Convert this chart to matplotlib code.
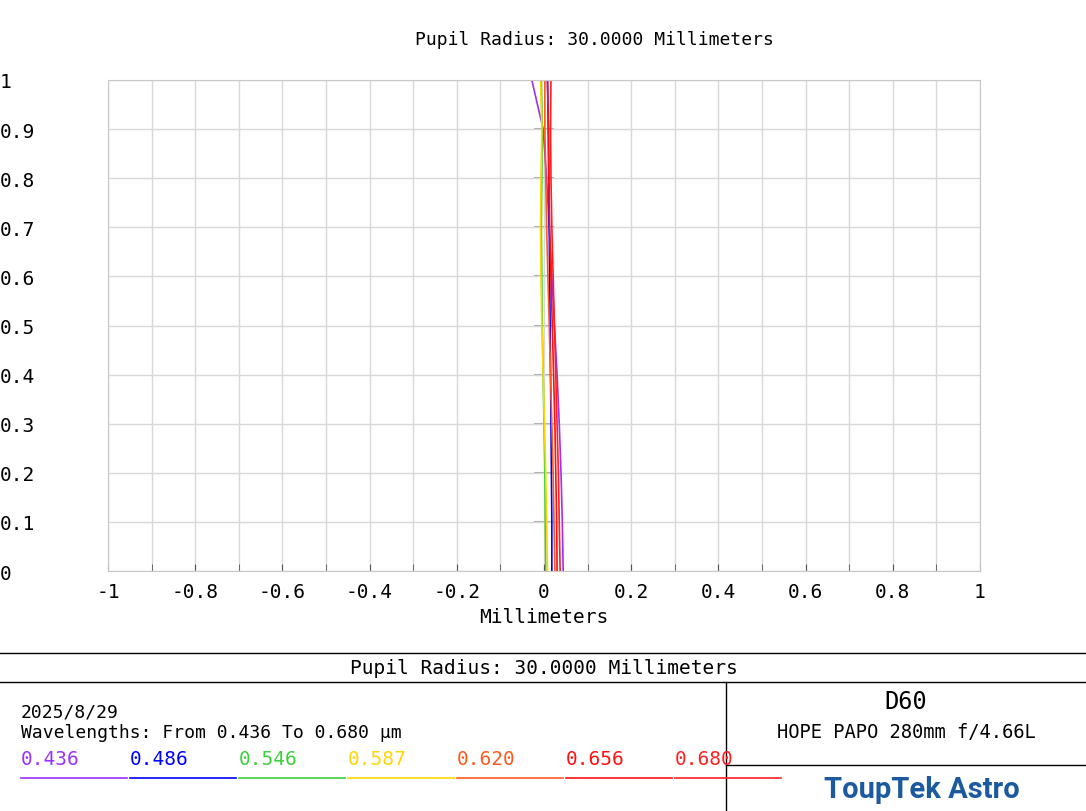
import matplotlib
matplotlib.use("Agg")
import matplotlib.pyplot as plt
import numpy as np

py = [0, 0.1, 0.2, 0.3, 0.4, 0.5, 0.6, 0.7, 0.8, 0.9, 1.0]
wavelengths = ["0.436", "0.486", "0.546", "0.587", "0.620", "0.656", "0.680"]
colors = ["#9b30ff", "#0000ff", "#3cd03c", "#ffd700", "#ff5a1e", "#ff1010", "#ff2020"]
w436 = [0.044, 0.042, 0.039, 0.035, 0.030, 0.024, 0.018, 0.012, 0.006, -0.002, -0.028]
w486 = [0.018, 0.018, 0.017, 0.016, 0.015, 0.014, 0.013, 0.012, 0.011, 0.010, 0.008]
w546 = [0.004, 0.003, 0.002, 0.000, -0.002, -0.004, -0.005, -0.006, -0.005, -0.004, -0.006]
w587 = [0.008, 0.006, 0.004, 0.001, -0.002, -0.005, -0.007, -0.008, -0.007, -0.005, -0.008]
w620 = [0.025, 0.023, 0.021, 0.018, 0.015, 0.012, 0.009, 0.006, 0.004, 0.002, 0.002]
w656 = [0.030, 0.029, 0.027, 0.025, 0.022, 0.019, 0.016, 0.013, 0.011, 0.010, 0.008]
w680 = [0.037, 0.035, 0.033, 0.030, 0.027, 0.024, 0.021, 0.018, 0.016, 0.015, 0.016]
series = [w436, w486, w546, w587, w620, w656, w680]

W, H = 1086, 812
fig = plt.figure(figsize=(W/100, H/100), dpi=100)
mono = "DejaVu Sans Mono"
ax = fig.add_axes([108/W, 1-572/H, (980-108)/W, (572-81)/H])
for s, c in zip(series, colors):
    ax.plot(s, py, color=c, lw=1.2)
ax.set_xlim(-1, 1); ax.set_ylim(0, 1)
ax.set_xticks(np.arange(-1, 1.01, 0.2))
ax.set_xticklabels(["-1", "-0.8", "-0.6", "-0.4", "-0.2", "0", "0.2", "0.4", "0.6", "0.8", "1"], fontsize=14, family=mono)
ax.set_xticks(np.arange(-1, 1.01, 0.1), minor=True)
ax.set_yticks(np.arange(0, 1.01, 0.1))
ax.set_yticklabels(["0", "0.1", "0.2", "0.3", "0.4", "0.5", "0.6", "0.7", "0.8", "0.9", "1"], fontsize=14, family=mono)
ax.grid(True, which="both", axis="x", color="#d8d8d8", lw=1)
ax.grid(True, which="major", axis="y", color="#d8d8d8", lw=1)
for sp in ax.spines.values():
    sp.set_color("#c8c8c8")
ax.tick_params(which="both", direction="in", length=5, color="#555555")
ax.tick_params(axis="x", pad=8)
ax.tick_params(axis="y", length=0, pad=28)
for lbl in ax.get_yticklabels():
    lbl.set_horizontalalignment("left")
ax.tick_params(axis="y", pad=78)
for yy in np.arange(0.1, 1.0, 0.1):
    ax.plot([-0.02, 0.02], [yy, yy], color="#aaaaaa", lw=1.5, zorder=0)
ax.set_xlabel("Millimeters", fontsize=14, family=mono, labelpad=4)
ax.set_ylabel("Normalized Pupil Coordinate", fontsize=14, family=mono, labelpad=4)
fig.text(594/W, 1-40/H, "Pupil Radius: 30.0000 Millimeters", ha="center", va="center", fontsize=13, family=mono)

def hline(y, x0=0, x1=W):
    fig.add_artist(plt.Line2D([x0/W, x1/W], [1-y/H, 1-y/H], color="black", lw=1))
hline(654); hline(683); hline(766, 726, W)
fig.add_artist(plt.Line2D([726/W, 726/W], [1-683/H, 0], color="black", lw=1))
fig.text(544/W, 1-669/H, "Pupil Radius: 30.0000 Millimeters", ha="center", va="center", fontsize=14, family=mono)
fig.text(21/W, 1-713/H, "2025/8/29", va="center", fontsize=13, family=mono)
fig.text(21/W, 1-733/H, "Wavelengths: From 0.436 To 0.680 µm", va="center", fontsize=13, family=mono)
for i, (w, c) in enumerate(zip(wavelengths, colors)):
    x0 = 21 + i*109
    fig.text(x0/W, 1-760/H, w, color=c, va="center", fontsize=14, family=mono)
    fig.add_artist(plt.Line2D([x0/W, (x0+106)/W], [1-779/H, 1-779/H], color=c, lw=1.2))
fig.text(906/W, 1-702/H, "D60", ha="center", va="center", fontsize=17, family=mono)
fig.text(906/W, 1-733/H, "HOPE PAPO 280mm f/4.66L", ha="center", va="center", fontsize=13.5, family=mono)
fig.text(922/W, 1-790/H, "ToupTek Astro", ha="center", va="center", fontsize=21, color="#1c5aa0", fontweight="bold", family="Roboto")
fig.savefig("out.png", dpi=100)
